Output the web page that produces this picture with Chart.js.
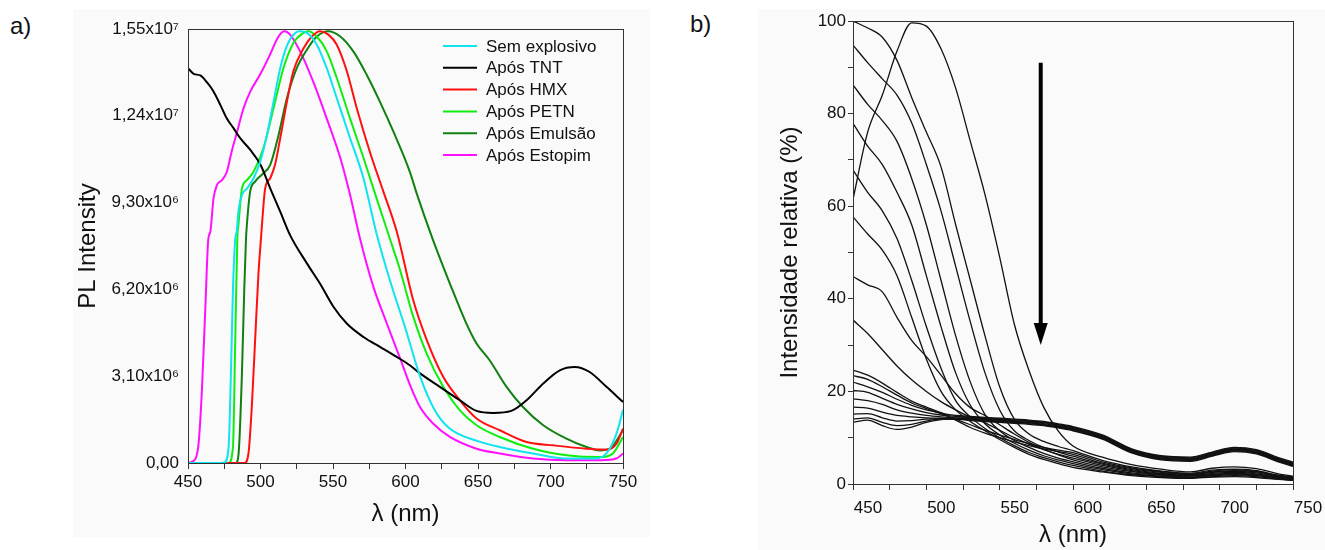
<!DOCTYPE html>
<html lang="pt">
<head>
  <meta charset="UTF-8">
  <title>Espectros PL</title>
  <script src="https://cdn.jsdelivr.net/npm/chart.js"></script>
  <style>
    body {
      margin: 0;
      width: 1325px;
      height: 550px;
      background: #fff;
      font-family: 'Liberation Sans', Arial, sans-serif;
      position: relative;
      overflow: hidden;
    }
    .bg { position: absolute; background: #fafafa; }
    .panel { position: absolute; top: 0; height: 550px; }
    .tag { position: absolute; font-size: 24px; color: #111; line-height: 28px; }
  </style>
</head>
<body>
  <div class="bg" style="left:73px;top:9px;width:577px;height:528px"></div>
  <div class="bg" style="left:758px;top:9px;width:567px;height:541px"></div>
  <div class="tag" style="left:10px;top:12px">a)</div>
  <div class="tag" style="left:690px;top:10px">b)</div>
  <div class="panel" style="left:0;width:662px"><canvas id="chartA" width="662" height="550"></canvas></div>
  <div class="panel" style="left:662px;width:663px"><canvas id="chartB" width="663" height="550"></canvas></div>

  <script>
    // ---------- panel a: PL spectra (intensity in units of 10^6) ----------
    const labelsA = ['Sem explosivo', 'Após TNT', 'Após HMX', 'Após PETN', 'Após Emulsão', 'Após Estopim'];
    const colorsA = ['#10e4ee', '#000000', '#ff1010', '#10ee10', '#108010', '#ff10ff'];

    const semExplosivo = [[450,0],[470,0],[475,0.02],[478,0.57],[479.6,3.2],[481,6.2],[482.6,8.0],[483.7,8.3],
      [484.8,9.0],[487.2,9.57],[490.6,9.8],[495.2,10.17],[499.8,10.76],[504.4,11.7],[509,12.9],[513.6,14.1],
      [518.2,14.9],[523.9,15.36],[527.3,15.42],[532,15.36],[538.8,14.94],[545.7,14.1],[552.6,13.03],[561.8,11.6],
      [571,10.17],[580,8.2],[590,6.4],[600,4.8],[610,3.1],[620,1.9],[630,1.25],[650,0.78],[665,0.57],[688,0.34],
      [711,0.16],[731,0.16],[738.6,0.34],[745.5,1.05],[750,1.9]];
    const aposTNT = [[450,14.1],[453.9,13.9],[458.5,13.84],[463,13.6],[467.6,13.27],[472.2,12.8],[476.8,12.3],
      [481.4,11.96],[486,11.6],[493,11.18],[500,10.65],[506.7,9.81],[513.6,8.98],[520.4,8.14],[532,7.13],[541,6.41],
      [550.3,5.58],[559.5,4.98],[571,4.5],[582.4,4.15],[594,3.79],[603,3.49],[610,3.2],[623.7,2.72],[637.5,2.24],
      [649,1.86],[660.5,1.79],[673,1.86],[683.5,2.24],[695,2.84],[706.4,3.31],[716.7,3.43],[727,3.25],[738.6,2.72],
      [750,2.18]];
    const aposHMX = [[450,0],[489,0],[491.7,0.34],[494,2.0],[496.3,4.4],[498.6,6.77],[500.3,8.0],[501,8.5],
      [503.2,9.8],[506.7,10.17],[510,10.65],[513.6,11.6],[518.2,12.9],[522.7,14.0],[529.6,14.8],[535.4,15.23],
      [541,15.42],[546.8,15.3],[552.6,14.94],[559.5,14.0],[566.4,12.67],[575.5,11.1],[584.7,9.7],[594,8.26],
      [605.4,5.8],[614.6,4.4],[626,3.08],[637.5,2.24],[649,1.59],[665,1.17],[683.5,0.75],[701.8,0.63],[724.8,0.51],
      [738.6,0.48],[745.5,0.69],[750,1.23]];
    const aposPETN = [[450,0],[478,0],[481,0.57],[482.6,4.4],[484,8.0],[484.8,8.5],[487.2,9.8],[490.6,10.1],
      [495.2,10.4],[502,11.24],[509,12.67],[515.8,14.1],[522.7,15.0],[529.6,15.36],[533,15.42],[538.8,15.23],
      [545.7,14.7],[552.6,13.75],[561.8,12.3],[571,10.9],[580,9.46],[589.3,8.0],[596.2,6.9],[605.4,5.22],
      [614.6,3.91],[626,2.72],[637.5,1.88],[649,1.35],[665,0.93],[688,0.51],[711,0.28],[734,0.21],[743,0.34],
      [750,0.93]];
    const aposEmulsao = [[450,0],[483,0],[484.9,0.34],[487.2,3.2],[488.8,6.2],[490,8.0],[490.6,8.5],[492.9,9.7],
      [496.3,10.05],[501,10.3],[506.7,10.65],[512.4,11.7],[518.2,13.03],[525,14.1],[532,14.76],[538.8,15.23],
      [546.8,15.42],[555,15.23],[564,14.7],[573.3,13.86],[582.4,12.9],[591.6,11.84],[603,10.4],[607.7,9.63],
      [619,7.96],[630.6,6.41],[642,4.98],[649,4.27],[658,3.67],[669.7,2.72],[681,2.0],[695,1.35],[711,0.87],
      [724.8,0.57],[734,0.45],[741,0.51],[750,1.17]];
    const aposEstopim = [[450,0],[453,0.05],[457,0.56],[459.6,2.6],[462,5.6],[464,8.0],[465.4,8.26],[467.6,9.45],
      [470,9.93],[473.4,10.1],[476.8,10.4],[480,11.1],[483.7,11.8],[488.3,12.67],[493,13.27],[500,13.9],
      [506.7,14.6],[512.4,15.23],[516.5,15.42],[520.4,15.3],[527.3,14.7],[536.5,13.6],[545.7,12.3],[555,10.9],
      [561.8,9.57],[568.7,8.0],[577.8,6.3],[587,5.0],[596.2,3.75],[603,2.8],[610,2.0],[619,1.41],[630.6,0.93],
      [649,0.51],[665,0.34],[688,0.16],[711,0.1],[735,0.1],[745.5,0.16],[750,0.34]];

    const xTicksA = [450,475,500,525,550,575,600,625,650,675,700,725,750];
    const yTicksA = [0, 3.1, 6.2, 9.3, 12.4, 15.5];
    const yTickLabelsA = ['0,00', '3,10x10⁶', '6,20x10⁶', '9,30x10⁶', '1,24x10⁷', '1,55x10⁷'];

    // ---------- panel b: relative intensity (%) ----------
    const lambdaB = [450,460,470,480,490,500,510,520,530,540,550,560,570,580,590,600,620,640,660,680,695,710,725,740,750];
    const curvePico = [61.5,76,84,93.5,99.6,98.9,94,85.5,74,62.5,49,34.5,24.5,16.6,11.4,8.2,5.8,4.2,3.2,2.6,3.4,3.7,3.3,2.2,1.7];
    const curve100 = [100,98.5,96.5,91.5,83.5,76,68.5,56,44,32,21,14,10.8,9.2,8.1,7.2,5.1,3.7,2.8,2.3,3.0,3.2,2.9,1.9,1.5];
    const curve95 = [94.8,91,87.5,84,78,69,59,47,35,24,16,11.5,9.4,7.9,6.9,6.0,4.3,3.1,2.3,1.9,2.5,2.7,2.4,1.6,1.3];
    const curve86 = [86.2,82,78.5,74,66,56,44,32,22,15,11.5,9.4,7.9,6.6,5.6,4.8,3.4,2.4,1.9,1.5,2.0,2.2,1.9,1.3,1.0];
    const curve78 = [77.9,73,69,63,56,45,34,24,17,13,10.6,8.8,7.3,6.1,5.2,4.4,3.1,2.2,1.7,1.4,1.8,2.0,1.8,1.2,0.9];
    const curve68 = [67.8,63,59,53,44,34,25,18,14.5,12,10,8.3,6.8,5.7,4.8,4.0,2.8,2.0,1.6,1.3,1.6,1.8,1.6,1.1,0.8];
    const curve58 = [57.7,54,50.5,45,36,27,20,16,13.5,11.5,9.6,7.9,6.4,5.3,4.4,3.6,2.6,1.8,1.4,1.2,1.5,1.6,1.4,1.0,0.8];
    const curve45 = [44.8,43,41.5,36,31,27.5,23.5,19.5,16.5,14.8,12.8,10.8,9.0,7.5,6.3,5.2,3.7,2.7,2.0,1.7,2.1,2.3,2.1,1.4,1.1];
    const curve35 = [35.4,32.5,29,25.5,22.5,20,17.8,16,14.4,13.2,11.6,10,8.6,7.4,6.4,5.6,4.0,2.9,2.2,1.8,2.3,2.5,2.2,1.5,1.2];
    const curve25 = [24.6,23.5,21.8,19.8,17.9,16.6,15.4,13.8,12.2,11,10,9.1,8.3,7.6,7.0,6.4,4.5,3.3,2.5,2.0,2.6,2.9,2.6,1.7,1.3];
    const curve23 = [23.4,22.6,21,19.2,17.5,16.3,15.2,14,12.8,11.6,10.6,9.6,8.7,7.9,7.3,6.8,4.8,3.5,2.7,2.2,2.8,3.1,2.7,1.8,1.4];
    const curve22 = [22.0,21.0,19.8,18.3,17.0,16.0,15.3,14.8,14.6,14.4,14.2,14.0,13.8,13.5,13.0,12.4,10.6,7.6,6.1,5.8,6.9,7.9,7.4,5.7,4.7];
    const curve20 = [20.2,19.8,18.5,17.2,16.2,15.4,14.9,14.6,14.45,14.25,14.05,13.85,13.65,13.35,12.85,12.25,10.45,7.45,5.95,5.65,6.75,7.75,7.25,5.55,4.55];
    const curve18 = [18.4,18.0,17.2,16.0,15.3,14.8,14.5,14.3,14.3,14.1,13.9,13.7,13.5,13.2,12.7,12.1,10.3,7.3,5.8,5.5,6.6,7.6,7.1,5.4,4.4];
    const curve17 = [16.6,16.4,15.5,14.8,14.5,14.3,14.2,14.2,14.15,13.95,13.75,13.55,13.35,13.05,12.55,11.95,10.15,7.15,5.65,5.35,6.45,7.45,6.95,5.25,4.25];
    const curve15 = [15.1,15.2,14.3,13.6,13.7,14.0,14.1,14.1,14.0,13.8,13.6,13.4,13.2,12.9,12.4,11.8,10.0,7.0,5.5,5.2,6.3,7.3,6.8,5.1,4.1];
    const curve14 = [14.0,14.3,13.3,12.6,12.9,13.6,14.0,14.0,13.85,13.65,13.45,13.25,13.05,12.75,12.25,11.65,9.85,6.85,5.35,5.05,6.15,7.15,6.65,4.95,3.95];
    const curve13 = [13.3,13.8,12.6,11.8,12.3,13.3,13.9,14.0,13.7,13.5,13.3,13.1,12.9,12.6,12.1,11.5,9.7,6.7,5.2,4.9,6.0,7.0,6.5,4.8,3.8];

    const xTicksB = [450,475,500,525,550,575,600,625,650,675,700,725,750];
    const yTicksB = [0,10,20,30,40,50,60,70,80,90,100];
    // arrow drawn in data units
    const arrowX = 578, arrowFrom = 91, arrowTo = 30;

    const axisColor = '#333';
    const tickFont = { family: "'Liberation Sans', Arial, sans-serif", size: 17 };
    const titleFont = { family: "'Liberation Sans', Arial, sans-serif", size: 24 };

    const boxPlugin = {
      id: 'box',
      afterDraw(chart) {
        const a = chart.chartArea, ctx = chart.ctx;
        ctx.save();
        ctx.strokeStyle = axisColor;
        ctx.lineWidth = 1;
        ctx.strokeRect(Math.round(a.left) + 0.5, Math.round(a.top) + 0.5,
          Math.round(a.right - a.left), Math.round(a.bottom - a.top));
        ctx.restore();
      }
    };

    const legendA = {
      id: 'legendA',
      afterDraw(chart) {
        const a = chart.chartArea, ctx = chart.ctx;
        ctx.save();
        ctx.font = "17px 'Liberation Sans', Arial, sans-serif";
        ctx.textBaseline = 'middle';
        chart.data.datasets.forEach((ds, i) => {
          const y = a.top + 17 + i * 21.8;
          ctx.strokeStyle = ds.borderColor;
          ctx.lineWidth = 2;
          ctx.beginPath();
          ctx.moveTo(a.right - 180, y);
          ctx.lineTo(a.right - 146, y);
          ctx.stroke();
          ctx.fillStyle = '#111';
          ctx.fillText(ds.label, a.right - 137, y + 1);
        });
        ctx.restore();
      }
    };

    const arrowB = {
      id: 'arrowB',
      afterDatasetsDraw(chart) {
        const x = chart.scales.x.getPixelForValue(arrowX);
        const y1 = chart.scales.y.getPixelForValue(arrowFrom);
        const y2 = chart.scales.y.getPixelForValue(arrowTo);
        const ctx = chart.ctx;
        ctx.save();
        ctx.strokeStyle = '#000';
        ctx.fillStyle = '#000';
        ctx.lineWidth = 4;
        ctx.beginPath();
        ctx.moveTo(x, y1);
        ctx.lineTo(x, y2 - 20);
        ctx.stroke();
        ctx.beginPath();
        ctx.moveTo(x - 7, y2 - 22);
        ctx.lineTo(x + 7, y2 - 22);
        ctx.lineTo(x, y2);
        ctx.closePath();
        ctx.fill();
        ctx.restore();
      }
    };

    const seriesA = [semExplosivo, aposTNT, aposHMX, aposPETN, aposEmulsao, aposEstopim];

    new Chart(document.getElementById('chartA'), {
      type: 'line',
      data: {
        datasets: seriesA.map((pts, i) => ({
          label: labelsA[i],
          data: pts.map(p => ({ x: p[0], y: p[1] })),
          borderColor: colorsA[i],
          borderWidth: 2,
          pointRadius: 0,
          cubicInterpolationMode: 'monotone'
        }))
      },
      options: {
        responsive: false,
        animation: false,
        devicePixelRatio: 1,
        layout: { padding: { top: 29, right: 39, left: 0, bottom: 0 } },
        plugins: { legend: { display: false }, tooltip: { enabled: false } },
        scales: {
          x: {
            type: 'linear', min: 450, max: 750,
            afterBuildTicks: s => { s.ticks = xTicksA.map(v => ({ value: v })); },
            afterFit: s => { s.height = 87; },
            grid: { drawOnChartArea: false, tickLength: 6, color: axisColor },
            border: { color: axisColor },
            ticks: { color: '#111', font: tickFont, padding: 3, maxRotation: 0, autoSkip: false,
              callback: v => (v % 50 === 0 ? String(v) : '') },
            title: { display: true, text: 'λ (nm)', color: '#111', font: titleFont, padding: { top: 0, bottom: 21 } }
          },
          y: {
            min: 0, max: 15.5,
            afterBuildTicks: s => { s.ticks = yTicksA.map(v => ({ value: v })); },
            afterFit: s => { s.width = 188; },
            grid: { drawOnChartArea: false, drawTicks: false, color: axisColor },
            border: { color: axisColor },
            ticks: { color: '#111', font: tickFont, padding: 9, autoSkip: false,
              callback: (v, i) => yTickLabelsA[i] },
            title: { display: true, text: 'PL Intensity', color: '#111', font: titleFont, padding: { top: 74, bottom: 0 } }
          }
        }
      },
      plugins: [boxPlugin, legendA]
    });

    const seriesB = [curvePico, curve100, curve95, curve86, curve78, curve68, curve58, curve45, curve35,
      curve25, curve23, curve22, curve20, curve18, curve17, curve15, curve14, curve13];

    new Chart(document.getElementById('chartB'), {
      type: 'line',
      data: {
        datasets: seriesB.map(vals => ({
          data: lambdaB.map((x, i) => ({ x: x, y: vals[i] })),
          borderColor: '#111',
          borderWidth: 1.3,
          pointRadius: 0,
          cubicInterpolationMode: 'monotone'
        }))
      },
      options: {
        responsive: false,
        animation: false,
        devicePixelRatio: 1,
        layout: { padding: { top: 21, right: 32, left: 0, bottom: 0 } },
        plugins: { legend: { display: false }, tooltip: { enabled: false } },
        scales: {
          x: {
            type: 'linear', min: 450, max: 750,
            afterBuildTicks: s => { s.ticks = xTicksB.map(v => ({ value: v })); },
            afterFit: s => { s.height = 66; },
            grid: { drawOnChartArea: false, tickLength: 6, color: axisColor },
            border: { color: axisColor },
            ticks: { color: '#111', font: tickFont, padding: 8, labelOffset: 15, maxRotation: 0, autoSkip: false,
              callback: v => (v % 50 === 0 ? String(v) : '') },
            title: { display: true, text: 'λ (nm)', color: '#111', font: titleFont, padding: 0 }
          },
          y: {
            min: 0, max: 100,
            afterBuildTicks: s => { s.ticks = yTicksB.map(v => ({ value: v })); },
            afterFit: s => { s.width = 191; },
            grid: { drawOnChartArea: false, tickLength: 5, color: axisColor },
            border: { color: axisColor },
            ticks: { color: '#111', font: tickFont, padding: 2, autoSkip: false,
              callback: v => (v % 20 === 0 ? String(v) : '') },
            title: { display: true, text: 'Intensidade relativa (%)', color: '#111', font: titleFont, padding: { top: 114, bottom: 0 } }
          }
        }
      },
      plugins: [boxPlugin, arrowB]
    });
  </script>
</body>
</html>
